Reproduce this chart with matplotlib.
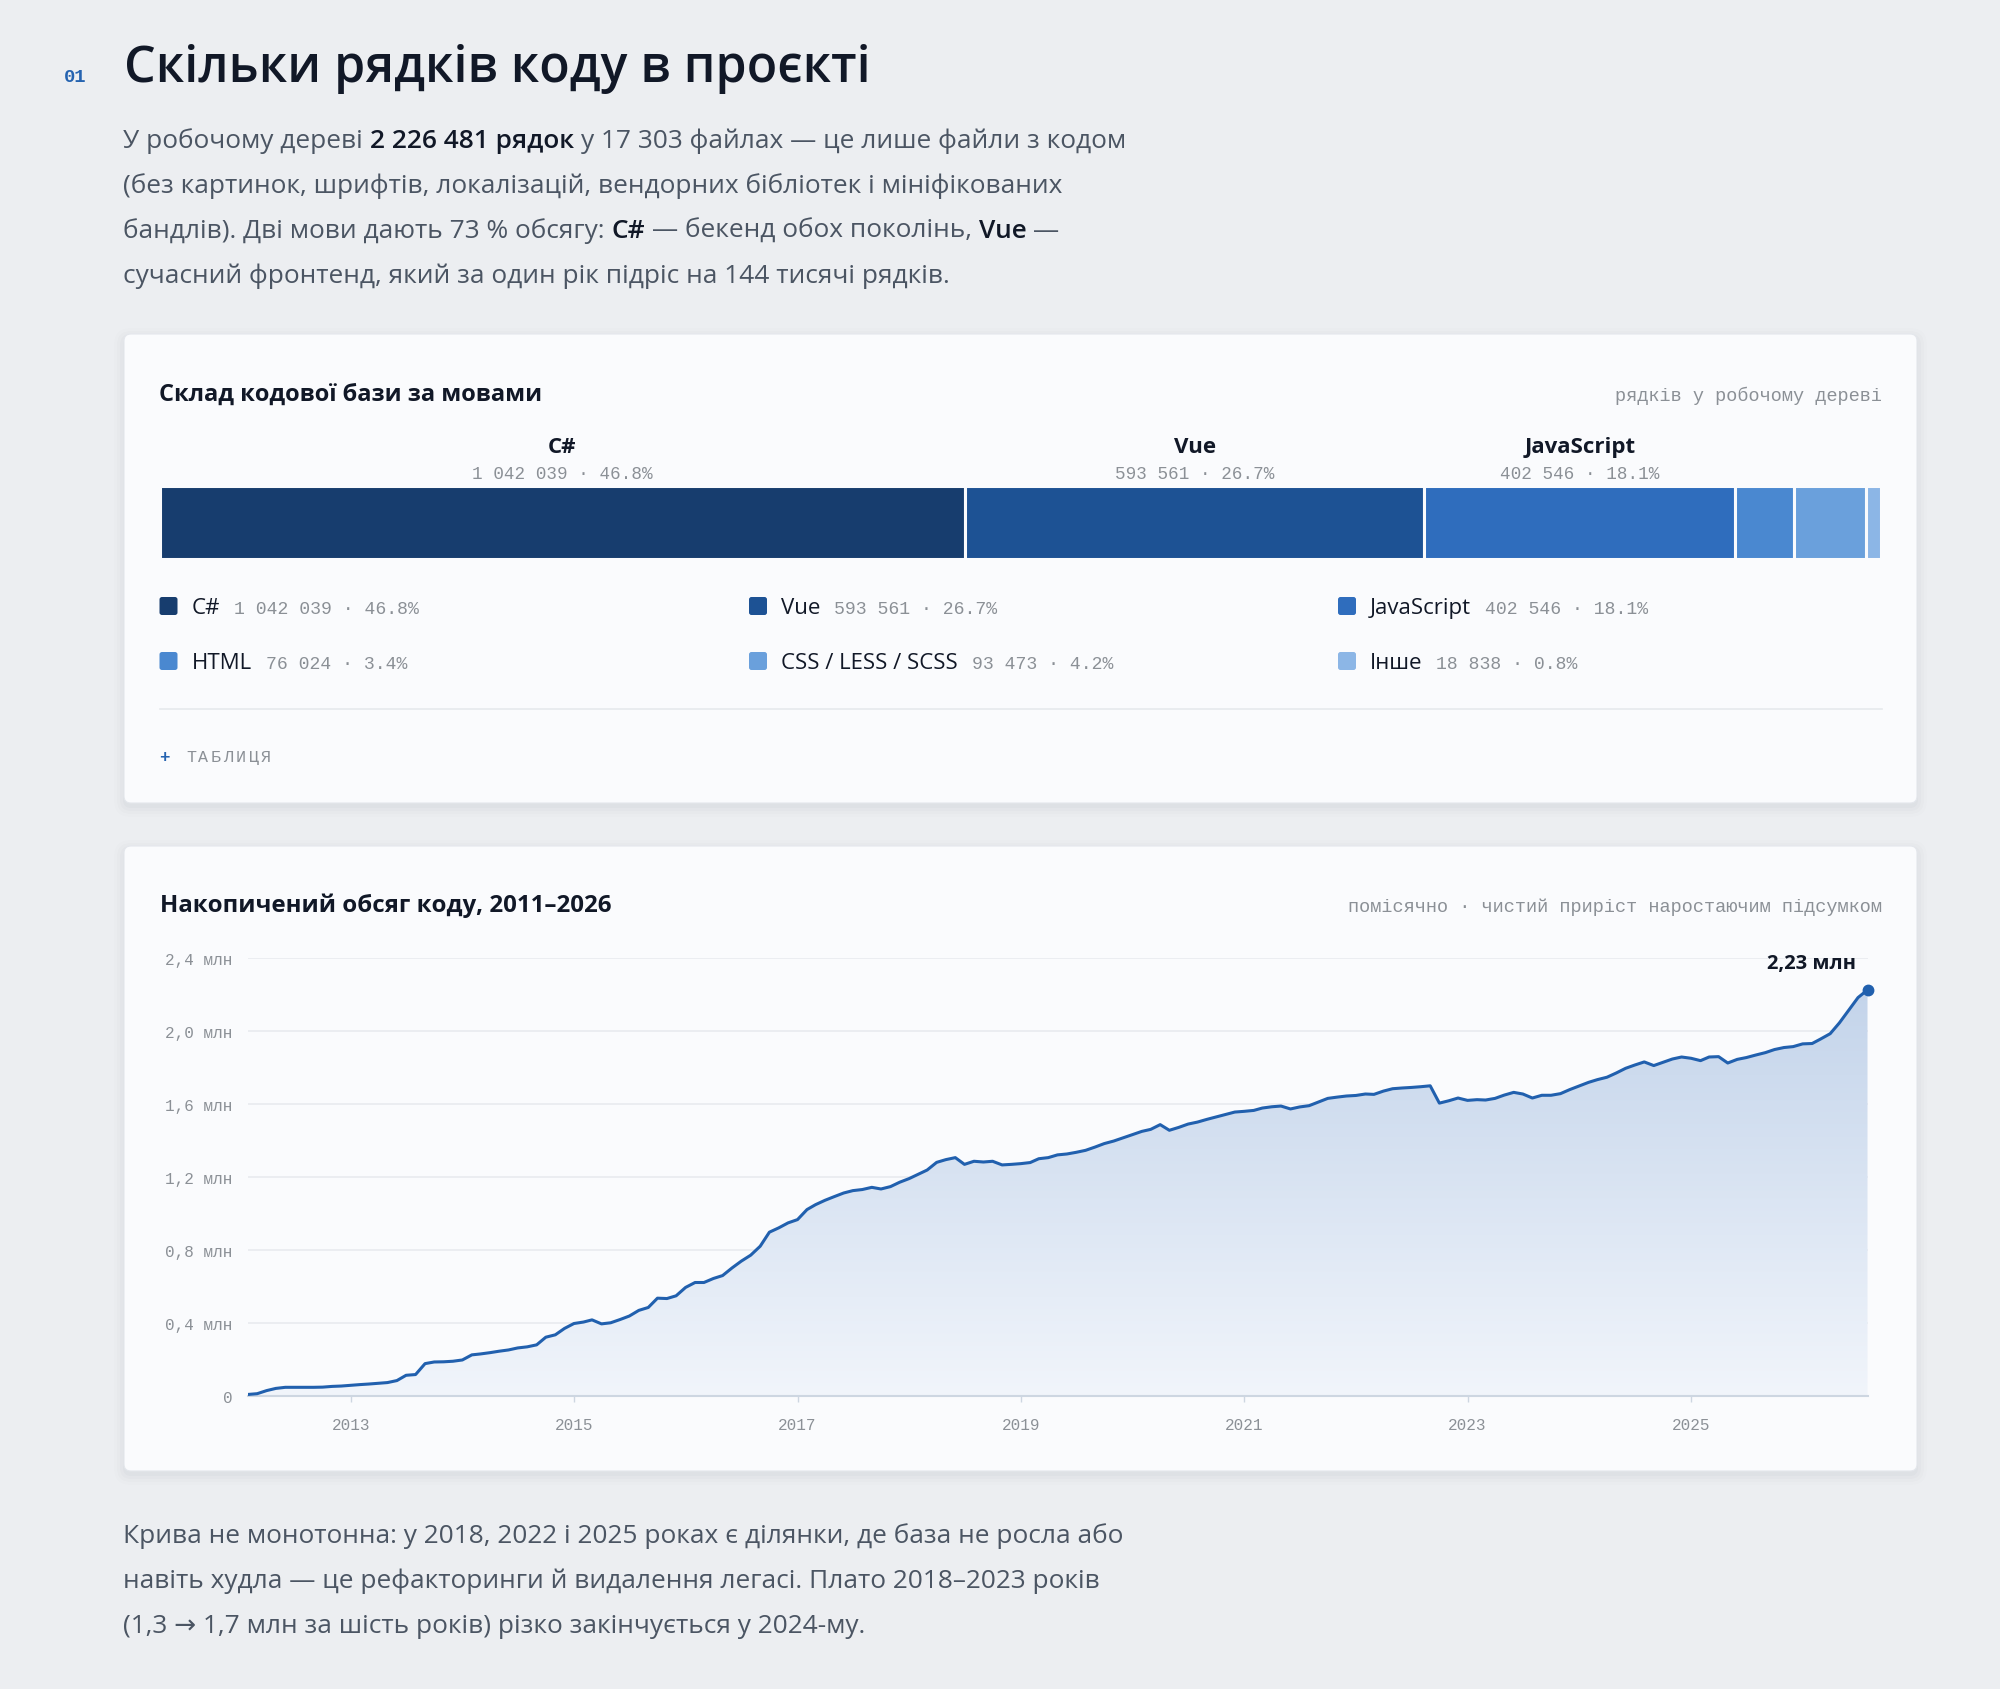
import numpy as np
import pandas as pd
import matplotlib
matplotlib.use('Agg')
import matplotlib.pyplot as plt
import matplotlib.dates as mdates
from matplotlib.patches import FancyBboxPatch
from matplotlib.colors import LinearSegmentedColormap
from matplotlib.transforms import blended_transform_factory

# --- data ---
langs = ['C#', 'Vue', 'JavaScript', 'HTML', 'CSS / LESS / SCSS', 'Інше']
lang_lines = [1042039, 593561, 402546, 76024, 93473, 18838]
lang_colors = ['#173d6e', '#1d5294', '#2f6dbd', '#4a88d0', '#6aa0dc', '#8cb6e6']

# cumulative lines of code, thousands, one value per month starting Feb 2012
k2012 = [7, 11, 28, 40, 46, 46, 46, 46, 47, 51, 53]
k2013 = [57, 61, 64, 68, 72, 83, 112, 116, 176, 185, 186, 189]
k2014 = [196, 224, 229, 236, 244, 251, 262, 268, 279, 321, 334, 369]
k2015 = [396, 404, 416, 394, 400, 418, 437, 468, 484, 535, 533, 548]
k2016 = [594, 621, 621, 643, 659, 701, 738, 771, 820, 897, 921, 948]
k2017 = [966, 1021, 1048, 1072, 1092, 1112, 1125, 1131, 1143, 1134, 1147, 1171]
k2018 = [1191, 1216, 1238, 1280, 1295, 1306, 1269, 1286, 1282, 1286, 1266, 1269]
k2019 = [1273, 1279, 1300, 1306, 1321, 1326, 1335, 1346, 1364, 1383, 1397, 1414]
k2020 = [1432, 1450, 1461, 1487, 1456, 1472, 1490, 1501, 1516, 1529, 1543, 1556]
k2021 = [1560, 1565, 1578, 1585, 1589, 1573, 1584, 1591, 1611, 1631, 1638, 1644]
k2022 = [1647, 1655, 1653, 1671, 1684, 1688, 1691, 1695, 1700, 1605, 1618, 1633]
k2023 = [1620, 1624, 1622, 1631, 1649, 1664, 1655, 1633, 1648, 1648, 1657, 1679]
k2024 = [1699, 1719, 1734, 1747, 1770, 1796, 1814, 1831, 1811, 1829, 1847, 1858]
k2025 = [1851, 1838, 1858, 1860, 1825, 1845, 1855, 1869, 1882, 1899, 1910, 1915]
k2026 = [1930, 1932, 1957, 1986, 2045, 2116, 2184, 2226]
start_month = '2012-02-01'

tick_years = [2013, 2015, 2017, 2019, 2021, 2023, 2025]
y_ticks = [0, 0.4, 0.8, 1.2, 1.6, 2.0, 2.4]
y_tick_labels = ['0', '0,4 млн', '0,8 млн', '1,2 млн', '1,6 млн', '2,0 млн', '2,4 млн']

cum_k = (k2012 + k2013 + k2014 + k2015 + k2016 + k2017 + k2018 + k2019
         + k2020 + k2021 + k2022 + k2023 + k2024 + k2025 + k2026)

# --- style ---
W, H = 2000, 1690
BG = '#eceef1'
CARD = '#fafbfd'
INK = '#111827'
GREY = '#4b5563'
MUTED = '#8b9096'
BLUE = '#2160ae'
SANS = ['Open Sans', 'DejaVu Sans']
MONO = ['Liberation Mono', 'DejaVu Sans Mono']

fig = plt.figure(figsize=(W / 100, H / 100), dpi=100)
fig.patch.set_facecolor(BG)
bg = fig.add_axes([0, 0, 1, 1])
bg.set_xlim(0, W)
bg.set_ylim(H, 0)
bg.axis('off')
renderer = fig.canvas.get_renderer()


def text_w(s, kw):
    a = bg.text(0, 0, '|' + s + '|', **kw)
    b = bg.text(0, 0, '||', **kw)
    w = a.get_window_extent(renderer).width - b.get_window_extent(renderer).width
    a.remove()
    b.remove()
    return w


def put_runs(x, y, parts, va='baseline'):
    for s, kw in parts:
        lead = len(s) - len(s.lstrip(' '))
        if s.strip():
            dx = text_w(' ' * lead, kw) if lead else 0
            bg.text(x + dx, y, s.strip(), ha='left', va=va, **kw)
        x += text_w(s, kw)
    return x


def card(x0, y0, x1, y1):
    for i, a in enumerate([0.018, 0.014, 0.010, 0.006]):
        g = 1 + i * 3
        bg.add_patch(FancyBboxPatch((x0 - g, y0 - g + 4), x1 - x0 + 2 * g, y1 - y0 + 2 * g,
                                    boxstyle=f'round,pad=0,rounding_size={7 + g}',
                                    fc='#1f2937', ec='none', alpha=a))
    bg.add_patch(FancyBboxPatch((x0, y0), x1 - x0, y1 - y0, boxstyle='round,pad=0,rounding_size=7',
                                fc=CARD, ec='#e4e7ec', lw=0.8))


def fmt_int(v):
    return f'{v:,}'.replace(',', ' ')


# --- header ---
bg.text(64, 82, '01', family=MONO, fontsize=13.5, fontweight='bold', color='#2563b0', va='baseline')
bg.text(124, 82, 'Скільки рядків коду в проєкті', family=SANS, fontsize=36,
        fontweight='semibold', color=INK, va='baseline')

P_REG = dict(family=SANS, fontsize=18.9, color=GREY)
P_BOLD = dict(family=SANS, fontsize=18.9, color=INK, fontweight='semibold')
put_runs(123, 148, [('У робочому дереві ', P_REG), ('2 226 481 рядок', P_BOLD),
                    (' у 17 303 файлах — це лише файли з кодом', P_REG)])
put_runs(123, 193, [('(без картинок, шрифтів, локалізацій, вендорних бібліотек і мініфікованих', P_REG)])
put_runs(123, 238, [('бандлів). Дві мови дають 73 % обсягу: ', P_REG), ('C#', P_BOLD),
                    (' — бекенд обох поколінь, ', P_REG), ('Vue', P_BOLD), (' —', P_REG)])
put_runs(123, 283, [('сучасний фронтенд, який за один рік підріс на 144 тисячі рядків.', P_REG)])

# --- card 1: language composition ---
card(124, 335, 1917, 804)
bg.text(159, 401, 'Склад кодової бази за мовами', family=SANS, fontsize=17,
        fontweight='bold', color=INK, va='baseline')
bg.text(1882, 401, 'рядків у робочому дереві', family=MONO, fontsize=13.4, color=MUTED,
        ha='right', va='baseline')

total = sum(lang_lines)
pcts = [v / total * 100 for v in lang_lines]
lefts = np.cumsum([0] + lang_lines[:-1])

axb = fig.add_axes([159.5 / W, (H - 560) / H, (1881 - 159.5) / W, (560 - 486.7) / H])
axb.barh(0, lang_lines, left=lefts, height=1.0, color=lang_colors, edgecolor=CARD, linewidth=2.2)
axb.set_xlim(0, total)
axb.set_ylim(-0.5, 0.5)
axb.axis('off')

tr = blended_transform_factory(axb.transData, bg.transData)
for i in range(3):
    cx = lefts[i] + lang_lines[i] / 2
    bg.text(cx, 453, langs[i], transform=tr, ha='center', va='baseline', family=SANS,
            fontsize=16, fontweight='bold', color=INK)
    bg.text(cx, 479, f'{fmt_int(lang_lines[i])} · {pcts[i]:.1f}%', transform=tr, ha='center',
            va='baseline', family=MONO, fontsize=12.7, color=MUTED)

L_NAME = dict(family=SANS, fontsize=16, color=INK)
L_VAL = dict(family=MONO, fontsize=13.1, color=MUTED)
cols_x = [159.5, 749, 1338]
rows_y = [607, 662]
for i, name in enumerate(langs):
    lx = cols_x[i % 3]
    ly = rows_y[i // 3]
    bg.add_patch(FancyBboxPatch((lx, ly - 9), 18, 18, boxstyle='round,pad=0,rounding_size=2.5',
                                fc=lang_colors[i], ec='none'))
    xe = put_runs(lx + 32, ly + 7, [(name, L_NAME)])
    put_runs(xe + 14, ly + 7, [(f'{fmt_int(lang_lines[i])} · {pcts[i]:.1f}%', L_VAL)])

bg.plot([159.5, 1882], [710, 710], color='#e6e9ed', lw=1.2)
bg.text(159.5, 758, '+', family=MONO, fontsize=12.5, fontweight='bold', color='#2563b0', va='center')
for i, ch in enumerate('ТАБЛИЦЯ'):
    bg.text(186 + i * 12.5, 758, ch, family=MONO, fontsize=12, color=MUTED, va='center')

# --- card 2: cumulative volume ---
card(124, 847, 1917, 1472)
bg.text(160, 912, 'Накопичений обсяг коду, 2011–2026', family=SANS, fontsize=17.3,
        fontweight='bold', color=INK, va='baseline')
bg.text(1882, 912, 'помісячно · чистий приріст наростаючим підсумком', family=MONO,
        fontsize=13.4, color=MUTED, ha='right', va='baseline')

dates = pd.date_range(start_month, periods=len(cum_k), freq='MS')
xs = mdates.date2num(dates)
ys = np.array(cum_k) / 1000.0

ax = fig.add_axes([248.3 / W, (H - 1396.7) / H, (1867.5 - 248.3) / W, (1396.7 - 959.2) / H])
ax.patch.set_alpha(0)
fade = LinearSegmentedColormap.from_list('fade', ['#f1f5fb', '#c2d3ea'])
fill = ax.fill_between(xs, ys, 0, color='none', lw=0)
img = ax.imshow(np.linspace(0, 1, 256).reshape(-1, 1), cmap=fade, origin='lower', aspect='auto',
                extent=[xs[0], xs[-1], 0, 2.3], zorder=1)
img.set_clip_path(fill.get_paths()[0], transform=ax.transData)
ax.plot(xs, ys, color=BLUE, lw=2.2, zorder=3, solid_joinstyle='round')
ax.plot([xs[-1]], [ys[-1]], 'o', ms=7.5, color=BLUE, zorder=4, clip_on=False)
ax.annotate(f'{total / 1e6:.2f}'.replace('.', ',') + ' млн', (xs[-1], ys[-1]), xytext=(-8, 19.5),
            textcoords='offset points', ha='right', va='center', family=SANS, fontsize=14.5,
            fontweight='bold', color=INK, annotation_clip=False)

ax.set_xlim(xs[0], xs[-1])
ax.set_ylim(0, 2.4)
ax.set_yticks(y_ticks)
ax.set_yticklabels(y_tick_labels, family=MONO)
ax.set_xticks(mdates.date2num(pd.to_datetime([f'{y}-01-01' for y in tick_years])))
ax.set_xticklabels([str(y) for y in tick_years], family=MONO)
ax.yaxis.grid(True, color='#e8ebef', lw=1.2)
ax.set_axisbelow(True)
for s in ['top', 'right', 'left']:
    ax.spines[s].set_visible(False)
ax.spines['bottom'].set_color('#cdd6e1')
ax.spines['bottom'].set_linewidth(1.5)
ax.tick_params(axis='y', length=0, pad=11.5, labelsize=11.5, labelcolor=MUTED)
ax.tick_params(axis='x', length=4.5, width=1, color='#cdd6e1', pad=10.5, labelsize=11.5, labelcolor=MUTED)

# --- footer text ---
put_runs(123, 1543, [('Крива не монотонна: у 2018, 2022 і 2025 роках є ділянки, де база не росла або', P_REG)])
put_runs(123, 1588, [('навіть худла — це рефакторинги й видалення легасі. Плато 2018–2023 років', P_REG)])
put_runs(123, 1633, [('(1,3 → 1,7 млн за шість років) різко закінчується у 2024-му.', P_REG)])

fig.savefig('out.png', dpi=100, facecolor=fig.get_facecolor())
